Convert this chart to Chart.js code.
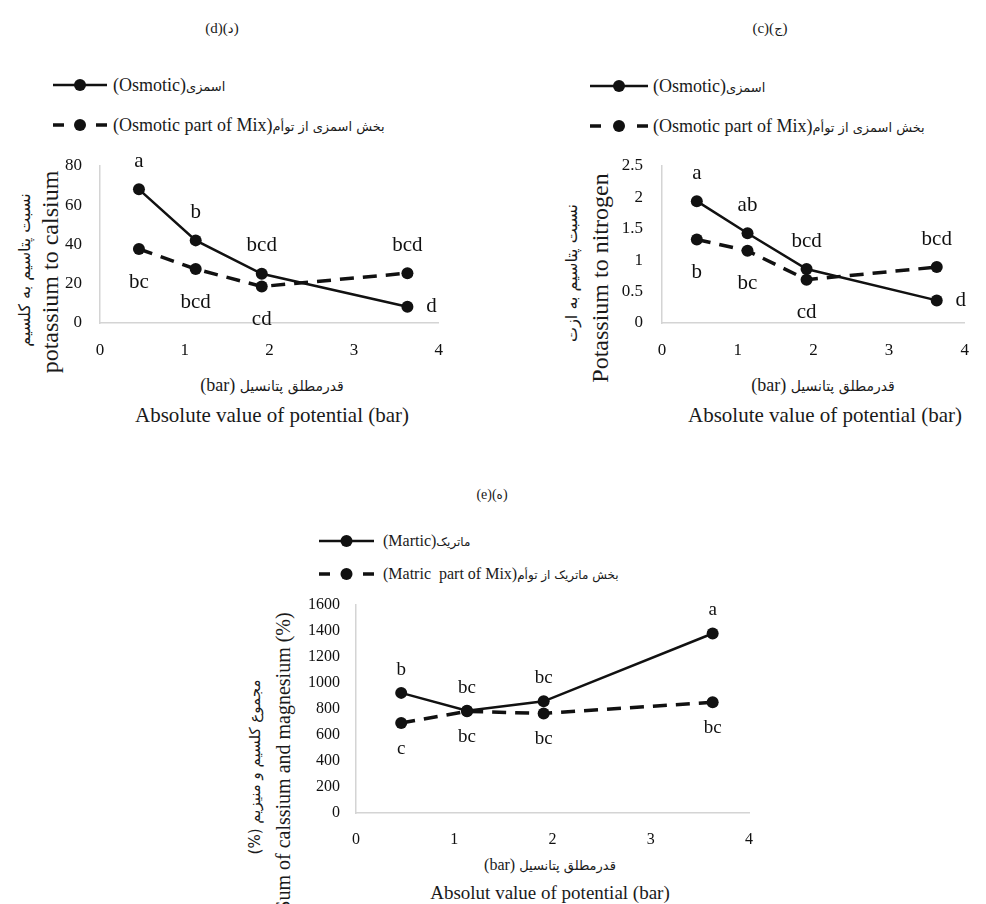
<!DOCTYPE html>
<html>
<head>
<meta charset="utf-8">
<script src="https://cdn.jsdelivr.net/npm/chart.js@4.4.1/dist/chart.umd.min.js"></script>
<style>
  body {
    margin: 0;
    width: 986px;
    height: 904px;
    position: relative;
    overflow: hidden;
    background: #fff;
    color: #1a1a1a;
    font-family: "Liberation Serif", "Times New Roman", "DejaVu Serif", serif;
  }
  canvas { position: absolute; }
  .t {
    position: absolute;
    white-space: nowrap;
    line-height: 1;
    transform: translate(-50%, -50%);
  }
  .v { transform: translate(-50%, -50%) rotate(-90deg); }
  .leg {
    position: absolute;
    white-space: nowrap;
    line-height: 1;
    font-size: 18px;
    transform: translateY(-50%);
  }
  .fa { font-family: "DejaVu Sans", sans-serif; }
</style>
</head>
<body>

<!-- panel titles -->
<div class="t" style="left:222px;top:28px;font-size:15px">(d)(<span class="fa" style="font-size:13px">د</span>)</div>
<div class="t" style="left:770px;top:28px;font-size:15px">(c)(<span class="fa" style="font-size:13px">ج</span>)</div>
<div class="t" style="left:492px;top:495px;font-size:14px">(e)(<span class="fa" style="font-size:12px">ه</span>)</div>

<!-- legends text -->
<div class="leg" dir="rtl" style="left:113px;top:85px"><span class="fa" style="font-size:13px">اسمزی</span>(Osmotic)</div>
<div class="leg" dir="rtl" style="left:113px;top:125px"><span class="fa" style="font-size:13px">بخش اسمزی از توأم</span>(Osmotic part of Mix)</div>
<div class="leg" dir="rtl" style="left:653px;top:86px"><span class="fa" style="font-size:13px">اسمزی</span>(Osmotic)</div>
<div class="leg" dir="rtl" style="left:653px;top:126px"><span class="fa" style="font-size:13px">بخش اسمزی از توأم</span>(Osmotic part of Mix)</div>
<div class="leg" dir="rtl" style="left:383px;top:541px;font-size:16px"><span class="fa" style="font-size:12px">ماتریک</span>(Martic)</div>
<div class="leg" dir="rtl" style="left:383px;top:574px;font-size:16px"><span class="fa" style="font-size:12px">بخش ماتریک از توأم</span>(Matric&nbsp; part of Mix)</div>

<!-- axis titles -->
<div class="t v fa" dir="rtl" style="left:25px;top:270px;font-size:16px">نسبت پتاسیم به کلسیم</div>
<div class="t v" style="left:50px;top:272px;font-size:24px">potassium to calsium</div>
<div class="t" dir="rtl" style="left:272px;top:385px;font-size:18px"><span class="fa" style="font-size:14px">قدرمطلق پتانسیل</span> (bar)</div>
<div class="t" style="left:272px;top:415px;font-size:21px">Absolute value of potential (bar)</div>

<div class="t v fa" dir="rtl" style="left:572px;top:273px;font-size:16px">نسبت پتاسیم به ازت</div>
<div class="t v" style="left:600px;top:278px;font-size:24px">Potassium to nitrogen</div>
<div class="t" dir="rtl" style="left:823px;top:385px;font-size:18px"><span class="fa" style="font-size:14px">قدرمطلق پتانسیل</span> (bar)</div>
<div class="t" style="left:825px;top:415px;font-size:21px">Absolute value of potential (bar)</div>

<div class="t v fa" dir="rtl" style="left:255px;top:767px;font-size:15px">مجموع کلسیم و منیزیم (%)</div>
<div class="t v" style="left:283px;top:762px;font-size:20px">Sum of calssium and magnesium (%)</div>
<div class="t" dir="rtl" style="left:550px;top:865px;font-size:16px"><span class="fa" style="font-size:13px">قدرمطلق پتانسیل</span> (bar)</div>
<div class="t" style="left:550px;top:892px;font-size:19px">Absolut value of potential (bar)</div>

<canvas id="chartD" width="460" height="440" style="left:0;top:0"></canvas>
<canvas id="chartC" width="466" height="440" style="left:520px;top:0"></canvas>
<canvas id="chartE" width="530" height="434" style="left:240px;top:470px"></canvas>

<script>
// ---- data ----
const potential = [0.46, 1.13, 1.91, 3.63];
const xTicks = [0, 1, 2, 3, 4];

// (d) potassium / calcium
const kCaOsmotic = [68.1, 42.1, 25.1, 8.3];
const kCaMix = [37.7, 27.5, 18.6, 25.4];
const kCaOsmoticLetters = ['a', 'b', 'bcd', 'd'];
const kCaMixLetters = ['bc', 'bcd', 'cd', 'bcd'];
const kCaTicks = [0, 20, 40, 60, 80];

// (c) potassium / nitrogen
const kNOsmotic = [1.94, 1.43, 0.86, 0.36];
const kNMix = [1.33, 1.15, 0.69, 0.89];
const kNOsmoticLetters = ['a', 'ab', 'bcd', 'd'];
const kNMixLetters = ['b', 'bc', 'cd', 'bcd'];
const kNTicks = [0, 0.5, 1, 1.5, 2, 2.5];

// (e) calcium + magnesium
const caMgMatric = [924, 787, 859, 1381];
const caMgMix = [692, 782, 766, 852];
const caMgMatricLetters = ['b', 'bc', 'bc', 'a'];
const caMgMixLetters = ['c', 'bc', 'bc', 'bc'];
const caMgTicks = [0, 200, 400, 600, 800, 1000, 1200, 1400, 1600];

const INK = '#111';
const AXIS = '#d4d4d4';
const SERIF = '"Liberation Serif", "Times New Roman", "DejaVu Serif", serif';

const toPoints = (ys) => ys.map((y, i) => ({ x: potential[i], y: y }));

// letters (significance groups) next to each point
const lettersPlugin = {
  id: 'letters',
  afterDatasetsDraw(chart, args, opts) {
    const c = chart.ctx;
    c.save();
    c.font = opts.size + 'px ' + SERIF;
    c.fillStyle = INK;
    c.textAlign = 'center';
    c.textBaseline = 'middle';
    chart.data.datasets.forEach((ds, i) => {
      chart.getDatasetMeta(i).data.forEach((pt, j) => {
        let x = pt.x, y = pt.y;
        const where = ds.letterPos[j];
        if (where === 'above') y -= opts.up;
        else if (where === 'below') y += opts.down;
        else x += opts.side;
        c.fillText(ds.letters[j], x, y);
      });
    });
    c.restore();
  }
};

// legend symbols: line + dot
const legendMarks = {
  id: 'legendMarks',
  afterDraw(chart, args, opts) {
    const c = chart.ctx;
    c.save();
    chart.data.datasets.forEach((ds, i) => {
      const y = opts.rows[i];
      c.strokeStyle = INK;
      c.fillStyle = INK;
      c.lineWidth = ds.borderWidth;
      c.beginPath();
      if (ds.borderDash) {
        c.moveTo(opts.x0, y); c.lineTo(opts.x0 + 11, y);
        c.moveTo(opts.x1 - 11, y); c.lineTo(opts.x1, y);
      } else {
        c.moveTo(opts.x0, y); c.lineTo(opts.x1, y);
      }
      c.stroke();
      c.beginPath();
      c.arc((opts.x0 + opts.x1) / 2, y, 6, 0, Math.PI * 2);
      c.fill();
    });
    c.restore();
  }
};

function makeChart(id, cfg) {
  const tickFont = { family: SERIF, size: cfg.tickSize };
  return new Chart(document.getElementById(id), {
    type: 'line',
    data: {
      datasets: [
        {
          data: toPoints(cfg.solid),
          letters: cfg.solidLetters,
          letterPos: cfg.solidPos,
          borderColor: INK,
          borderWidth: 2.5,
          pointRadius: 6,
          pointHoverRadius: 6,
          pointBackgroundColor: INK,
          pointBorderWidth: 0,
          tension: 0
        },
        {
          data: toPoints(cfg.dashed),
          letters: cfg.dashedLetters,
          letterPos: cfg.dashedPos,
          borderColor: INK,
          borderWidth: 3.5,
          borderDash: [14, 9],
          pointRadius: 6,
          pointHoverRadius: 6,
          pointBackgroundColor: INK,
          pointBorderWidth: 0,
          tension: 0
        }
      ]
    },
    options: {
      responsive: false,
      animation: false,
      layout: { padding: cfg.padding },
      plugins: {
        legend: { display: false },
        tooltip: { enabled: false },
        letters: cfg.letters,
        legendMarks: cfg.legend
      },
      scales: {
        x: {
          type: 'linear',
          min: 0,
          max: 4,
          afterBuildTicks: s => { s.ticks = xTicks.map(v => ({ value: v })); },
          afterFit: s => { s.height = 40; },
          grid: { display: false, drawTicks: false },
          border: { display: true, color: AXIS, width: 1.5 },
          ticks: { color: INK, font: tickFont, padding: 17, callback: v => String(v), maxRotation: 0 }
        },
        y: {
          min: 0,
          max: cfg.yTicks[cfg.yTicks.length - 1],
          afterBuildTicks: s => { s.ticks = cfg.yTicks.map(v => ({ value: v })); },
          afterFit: s => { s.width = cfg.yWidth; },
          grid: { display: false, drawTicks: false },
          border: { display: true, color: AXIS, width: 1.5 },
          ticks: { color: INK, font: tickFont, padding: cfg.yPad, callback: v => String(v) }
        }
      }
    },
    plugins: [lettersPlugin, legendMarks]
  });
}

const charts = [];

charts.push(makeChart('chartD', {
  solid: kCaOsmotic, dashed: kCaMix,
  solidLetters: kCaOsmoticLetters, dashedLetters: kCaMixLetters,
  solidPos: ['above', 'above', 'above', 'right'],
  dashedPos: ['below', 'below', 'below', 'above'],
  yTicks: kCaTicks, yWidth: 40, yPad: 18, tickSize: 17,
  padding: { left: 60, right: 20, top: 166, bottom: 77 },
  letters: { size: 21, up: 28, down: 33, side: 24 },
  legend: { x0: 53, x1: 107, rows: [85, 125] }
}));

charts.push(makeChart('chartC', {
  solid: kNOsmotic, dashed: kNMix,
  solidLetters: kNOsmoticLetters, dashedLetters: kNMixLetters,
  solidPos: ['above', 'above', 'above', 'right'],
  dashedPos: ['below', 'below', 'below', 'above'],
  yTicks: kNTicks, yWidth: 40, yPad: 19, tickSize: 17,
  padding: { left: 102, right: 3, top: 166, bottom: 77 },
  letters: { size: 21, up: 28, down: 33, side: 24 },
  legend: { x0: 70, x1: 128, rows: [86, 126] }
}));

charts.push(makeChart('chartE', {
  solid: caMgMatric, dashed: caMgMix,
  solidLetters: caMgMatricLetters, dashedLetters: caMgMixLetters,
  solidPos: ['above', 'above', 'above', 'above'],
  dashedPos: ['below', 'below', 'below', 'below'],
  yTicks: caMgTicks, yWidth: 50, yPad: 16, tickSize: 16,
  padding: { left: 66, right: 20, top: 135, bottom: 51 },
  letters: { size: 19, up: 23, down: 26, side: 24 },
  legend: { x0: 79, x1: 134, rows: [71, 104] }
}));

// canvas text needs the serif face loaded; redraw once it is
document.fonts.load('17px "Liberation Serif"').then(() => {
  charts.forEach(ch => ch.update());
});
</script>
</body>
</html>
